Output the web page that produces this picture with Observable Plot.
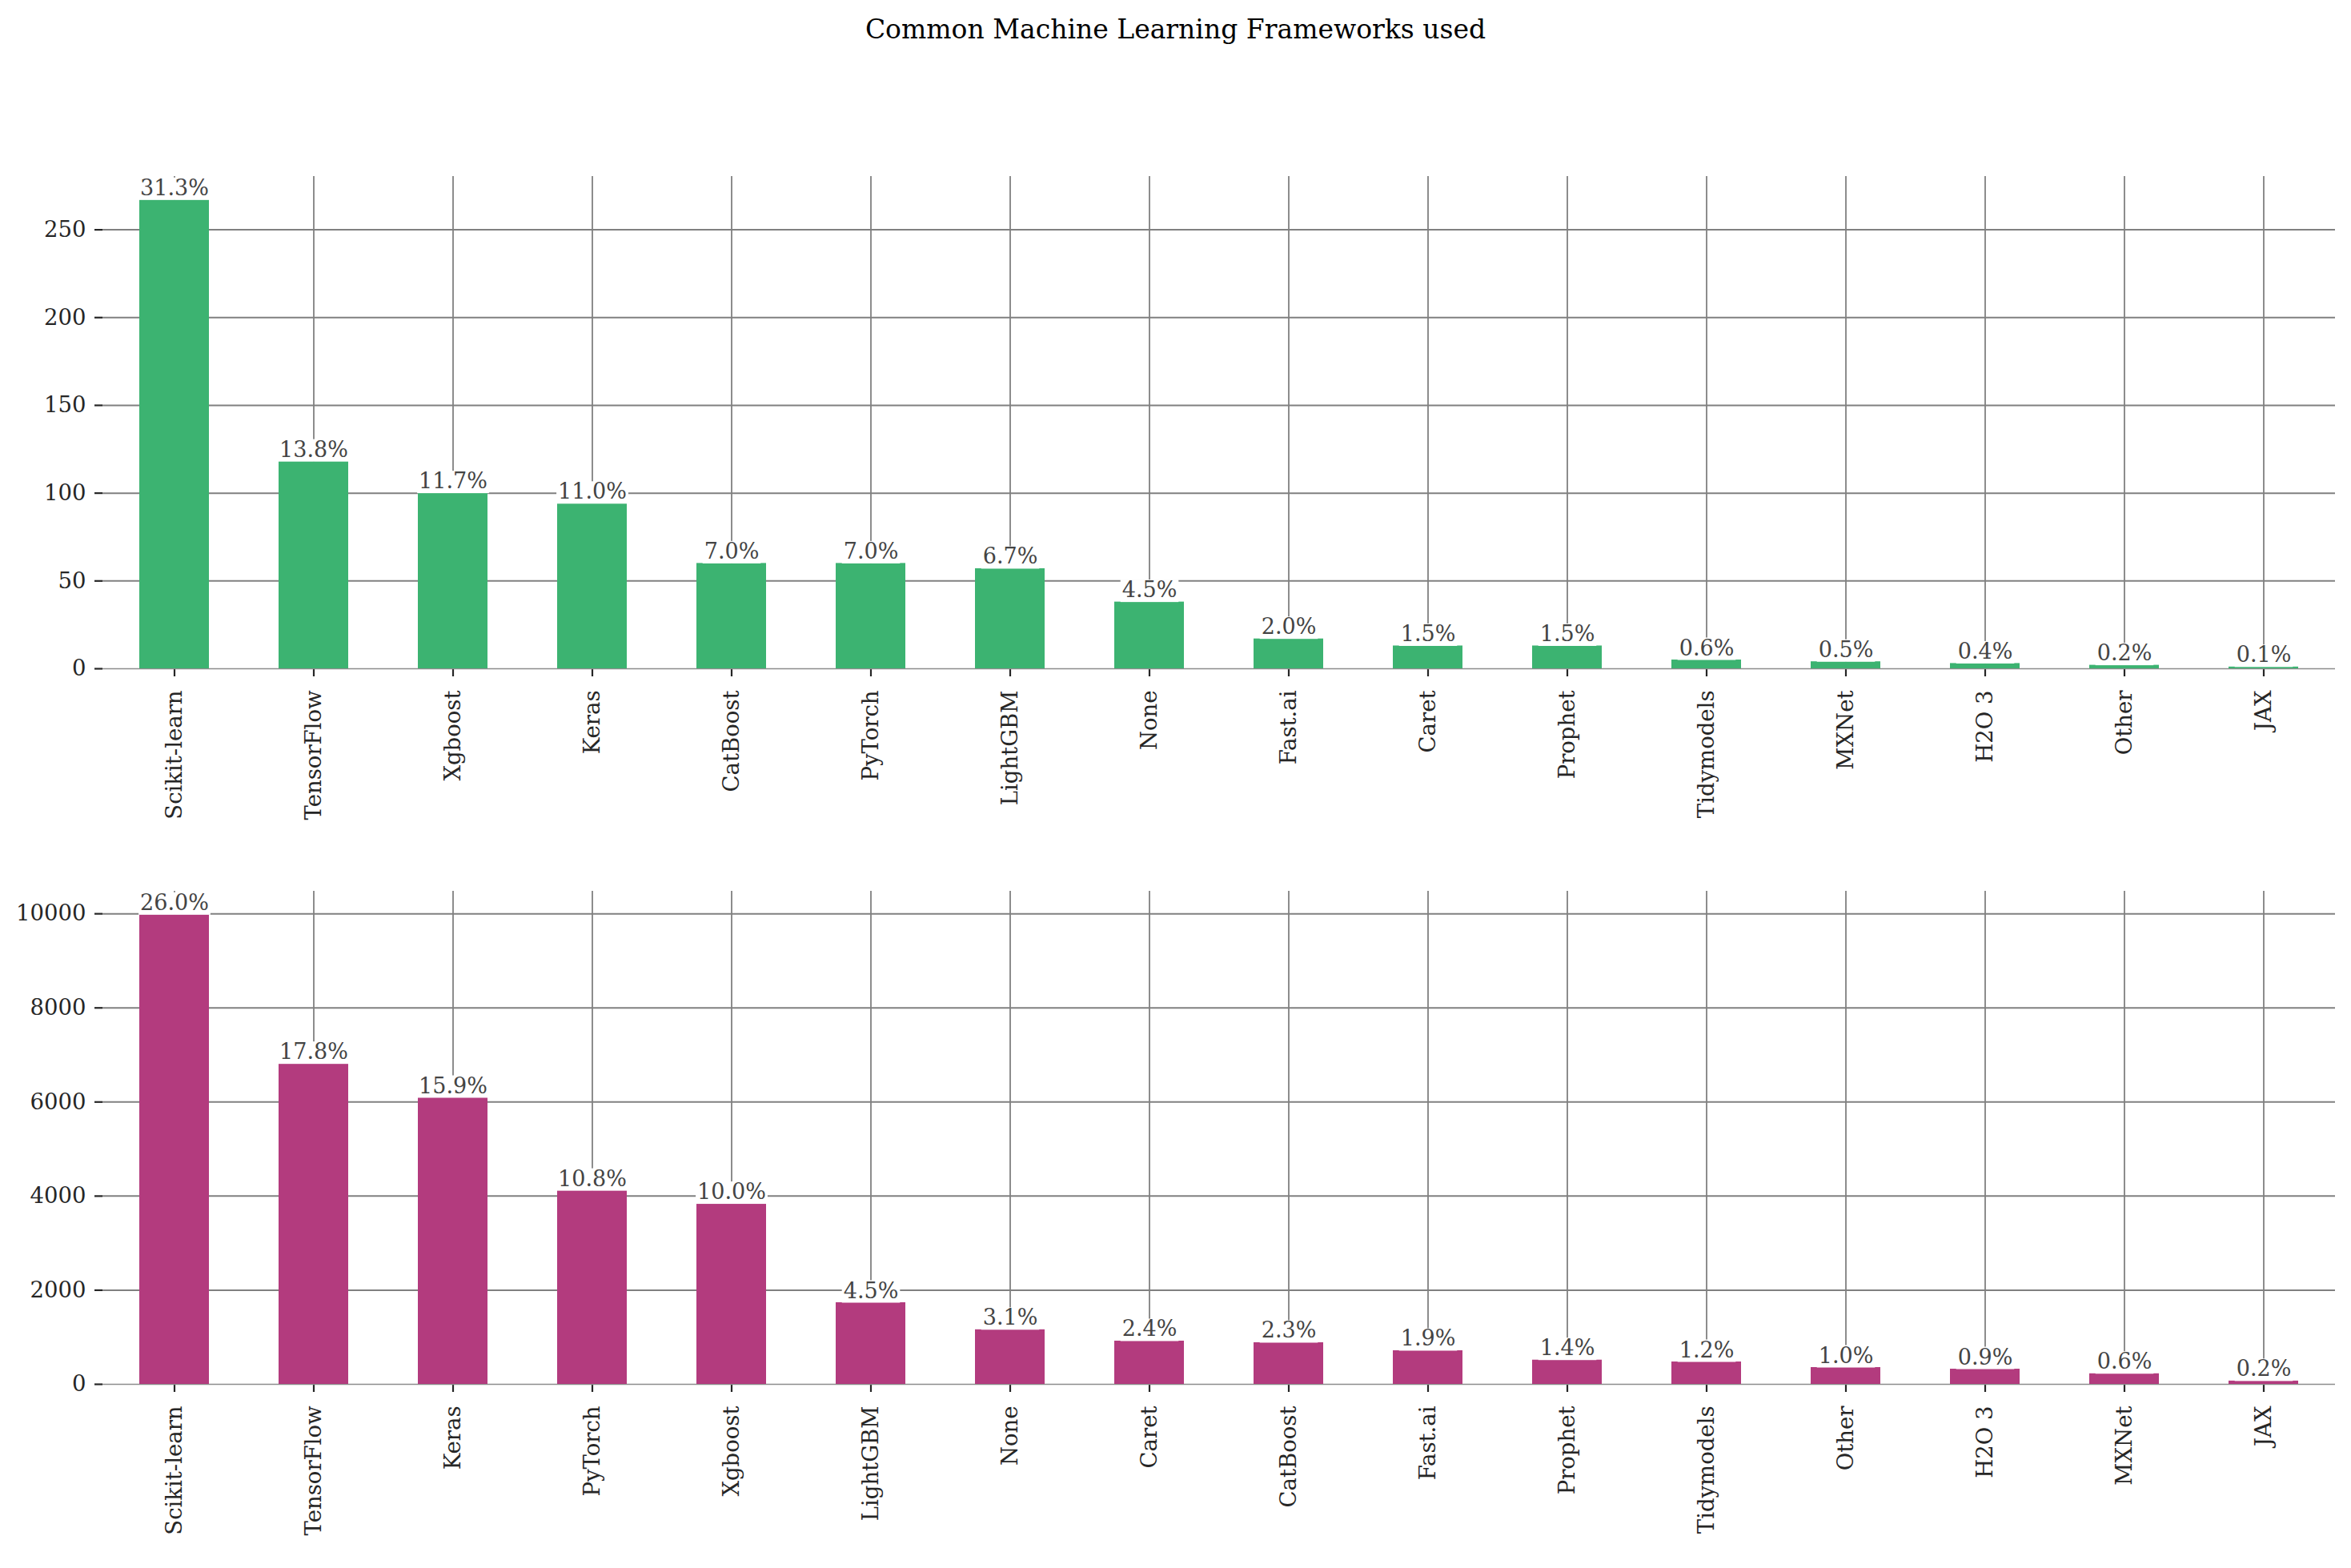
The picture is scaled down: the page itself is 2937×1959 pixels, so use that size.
<!DOCTYPE html>
<html>
<head>
<meta charset="utf-8">
<script src="https://cdn.jsdelivr.net/npm/d3@7"></script>
<script src="https://cdn.jsdelivr.net/npm/@observablehq/plot@0.6"></script>
<style>
  html, body { margin: 0; padding: 0; background: #ffffff; }
  #wrap { width: 2937px; background: #ffffff; }
  #title { height: 60px; box-sizing: border-box; padding-top: 16.6px; line-height: 40px;
           font-family: "DejaVu Serif", serif; font-size: 33px; color: #000; text-align: center; }
  svg { display: block; }
</style>
</head>
<body>
<div id="wrap">
  <div id="title">Common Machine Learning Frameworks used</div>
</div>
<script>
// ---- Data: top panel ----
const topCategories = ["Scikit-learn","TensorFlow","Xgboost","Keras","CatBoost","PyTorch","LightGBM","None","Fast.ai","Caret","Prophet","Tidymodels","MXNet","H2O 3","Other","JAX"];
const topCounts = [267,118,100,94,60,60,57,38,17,13,13,5,4,3,2,1];
const topPercents = ["31.3%","13.8%","11.7%","11.0%","7.0%","7.0%","6.7%","4.5%","2.0%","1.5%","1.5%","0.6%","0.5%","0.4%","0.2%","0.1%"];
const topTicks = [0,50,100,150,200,250];

// ---- Data: bottom panel ----
const bottomCategories = ["Scikit-learn","TensorFlow","Keras","PyTorch","Xgboost","LightGBM","None","Caret","CatBoost","Fast.ai","Prophet","Tidymodels","Other","H2O 3","MXNet","JAX"];
const bottomCounts = [9980,6810,6090,4115,3835,1735,1160,919,885,715,515,476,357,323,225,70];
const bottomPercents = ["26.0%","17.8%","15.9%","10.8%","10.0%","4.5%","3.1%","2.4%","2.3%","1.9%","1.4%","1.2%","1.0%","0.9%","0.6%","0.2%"];
const bottomTicks = [0,2000,4000,6000,8000,10000];

function makeChart(cats, counts, pcts, ticks, color, height, marginTop, marginBottom) {
  const data = cats.map((c, i) => ({cat: c, count: counts[i], pct: pcts[i]}));
  return Plot.plot({
    width: 2937,
    height,
    marginLeft: 128,
    marginRight: 20,
    marginTop,
    marginBottom,
    style: {fontFamily: "DejaVu Serif", fontSize: "27.5px", color: "#262626", background: "#ffffff", overflow: "visible"},
    x: {domain: cats, paddingInner: 0.5, paddingOuter: 0.25, label: null, tickSize: 10, tickPadding: 17, tickRotate: -90},
    y: {domain: [0, d3.max(counts) * 1.05], ticks, tickFormat: d => String(d), tickSize: 10, tickPadding: 11, label: null},
    marks: [
      Plot.ruleY(ticks.filter(t => t > 0), {y: d => d, stroke: "#808080", strokeWidth: 2}),
      Plot.ruleX(cats, {x: d => d, stroke: "#808080", strokeWidth: 1.8}),
      Plot.ruleY([0], {stroke: "#8c8c8c", strokeWidth: 1.4}),
      Plot.barY(data, {x: "cat", y: "count", fill: color}),
      Plot.text(data, {x: "cat", y: "count", text: "pct", lineAnchor: "bottom", dy: -6, fill: "#444444", fontSize: 27})
    ]
  });
}

function addLabelBoxes(svg) {
  const groups = svg.querySelectorAll('g[aria-label="text"]');
  groups.forEach(g => {
    g.querySelectorAll("text").forEach(t => {
      const b = t.getBBox();
      const r = document.createElementNS("http://www.w3.org/2000/svg", "rect");
      r.setAttribute("x", b.x - 2);
      r.setAttribute("y", b.y + 3);
      r.setAttribute("width", b.width + 4);
      r.setAttribute("height", Math.max(0, b.height - 3));
      r.setAttribute("fill", "#ffffff");
      r.setAttribute("stroke", "none");
      const tr = t.getAttribute("transform");
      if (tr) r.setAttribute("transform", tr);
      t.parentNode.insertBefore(r, t);
    });
  });
}

function styleTicks(svg) {
  svg.querySelectorAll('[aria-label$="tick"] path, [aria-label$="tick"] line').forEach(p => {
    p.setAttribute("stroke-width", 2.2);
  });
}

const wrap = document.getElementById("wrap");
const c1 = makeChart(topCategories, topCounts, topPercents, topTicks, "#3cb371", 1000, 160, 225);
wrap.appendChild(c1);
const c2 = makeChart(bottomCategories, bottomCounts, bottomPercents, bottomTicks, "#b33b7e", 899, 53, 230);
wrap.appendChild(c2);
[c1, c2].forEach(s => { addLabelBoxes(s); styleTicks(s); });
</script>
</body>
</html>
